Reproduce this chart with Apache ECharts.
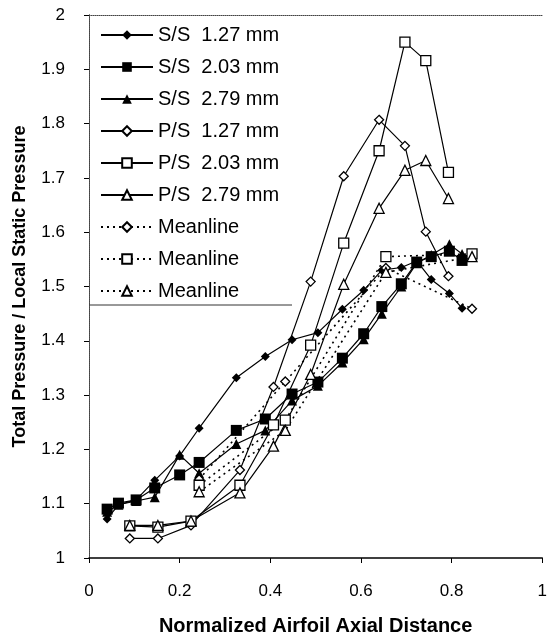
<!DOCTYPE html>
<html>
    <head>
        <title>Total Pressure / Local Static Pressure</title>
        <meta charset="UTF-8">
        <script type="text/javascript" src="https://cdn.jsdelivr.net/npm/echarts@6/dist/echarts.min.js"></script>
        <style>
            html, body { margin: 0; padding: 0; background: #fff; }
            #container { width: 550px; height: 641px; }
        </style>
    </head>
    <body>
        <div id="container"></div>
        <script type="text/javascript">
            // suction side stations
            var ssX = [0.04, 0.065, 0.104, 0.145, 0.2, 0.243, 0.325, 0.389, 0.448, 0.505, 0.559, 0.606, 0.646, 0.689, 0.723, 0.755, 0.795, 0.823];
            var ss127 = [1.072, 1.098, 1.107, 1.143, 1.188, 1.239, 1.332, 1.371, 1.402, 1.415, 1.458, 1.493, 1.53, 1.535, 1.547, 1.513, 1.487, 1.46];
            var ss203 = [1.09, 1.101, 1.107, 1.129, 1.153, 1.176, 1.235, 1.256, 1.302, 1.324, 1.368, 1.413, 1.463, 1.505, 1.545, 1.555, 1.565, 1.548];
            var ss279 = [1.085, 1.098, 1.105, 1.112, 1.19, 1.156, 1.21, 1.235, 1.29, 1.317, 1.36, 1.403, 1.45, 1.5, 1.543, 1.558, 1.578, 1.56];
            // pressure side stations
            var psX = [0.09, 0.152, 0.225, 0.333, 0.407, 0.489, 0.562, 0.64, 0.697, 0.743, 0.793];
            var ps127 = [1.036, 1.036, 1.06, 1.162, 1.315, 1.509, 1.703, 1.807, 1.759, 1.601, 1.519];
            var ps203 = [1.059, 1.057, 1.068, 1.134, 1.245, 1.392, 1.58, 1.75, 1.95, 1.916, 1.71];
            var ps279 = [1.06, 1.06, 1.068, 1.12, 1.206, 1.338, 1.504, 1.644, 1.714, 1.732, 1.662];
            // meanline stations
            var mlX = [0.243, 0.433, 0.655, 0.845];
            var ml127 = [1.145, 1.325, 1.534, 1.459];
            var ml203 = [1.134, 1.254, 1.555, 1.56];
            var ml279 = [1.122, 1.235, 1.526, 1.555];

            // trailing spaces keep the three Meanline entries apart in the legend
            var names = ['S/S  1.27 mm', 'S/S  2.03 mm', 'S/S  2.79 mm', 'P/S  1.27 mm', 'P/S  2.03 mm', 'P/S  2.79 mm', 'Meanline', 'Meanline ', 'Meanline  '];
            var xTicks = [0, 0.2, 0.4, 0.6, 0.8, 1];
            var yTicks = [1, 1.1, 1.2, 1.3, 1.4, 1.5, 1.6, 1.7, 1.8, 1.9, 2];

            function pairs(xs, ys) {
                var out = [];
                for (var i = 0; i < xs.length; i++) {
                    out.push([xs[i], ys[i]]);
                }
                return out;
            }

            function line(name, xs, ys, symbol, size, filled, dotted) {
                return {
                    name: name,
                    type: 'line',
                    data: pairs(xs, ys),
                    symbol: symbol,
                    symbolSize: size,
                    showAllSymbol: true,
                    lineStyle: { color: '#000', width: dotted ? 1.6 : 1.2, type: dotted ? [2, 4] : 'solid' },
                    itemStyle: { color: filled ? '#000' : '#fff', borderColor: '#000', borderWidth: filled ? 0 : 1.3 },
                    emphasis: { disabled: true },
                    animation: false
                };
            }

            var font = "'Liberation Sans', Arial, sans-serif";
            var myChart = echarts.init(document.getElementById('container'));
            var option = {
                backgroundColor: '#fff',
                grid: { left: 89, right: 4, top: 15, bottom: 77 },
                legend: {
                    orient: 'vertical',
                    left: 95,
                    top: 19,
                    data: names,
                    itemWidth: 52,
                    itemHeight: 12,
                    itemGap: 10,
                    textStyle: { fontFamily: font, fontSize: 20, color: '#000', lineHeight: 22 }
                },
                graphic: [{
                    type: 'line',
                    shape: { x1: 89, y1: 305, x2: 292, y2: 305 },
                    style: { stroke: '#333', lineWidth: 1 }
                }],
                xAxis: [{
                    type: 'value',
                    min: 0,
                    max: 1,
                    interval: 0.2,
                    name: 'Normalized Airfoil Axial Distance',
                    nameLocation: 'middle',
                    nameGap: 58,
                    nameTextStyle: { fontFamily: font, fontSize: 20, fontWeight: 'bold', color: '#000' },
                    axisLine: { lineStyle: { color: '#000', width: 1.5 } },
                    axisTick: { length: 5, lineStyle: { color: '#000' } },
                    axisLabel: { margin: 25, fontFamily: font, fontSize: 17, color: '#000',
                        customValues: xTicks },
                    splitLine: { show: false }
                }, {
                    type: 'value',
                    position: 'top',
                    min: 0,
                    max: 1,
                    axisLine: { show: true, lineStyle: { color: '#444', type: [1, 1] } },
                    axisTick: { show: false },
                    axisLabel: { show: false },
                    splitLine: { show: false }
                }],
                yAxis: [{
                    type: 'value',
                    min: 1,
                    max: 2,
                    interval: 0.1,
                    name: 'Total Pressure / Local Static Pressure',
                    nameLocation: 'middle',
                    nameGap: 60,
                    nameTextStyle: { fontFamily: font, fontSize: 18, fontWeight: 'bold', color: '#000' },
                    axisLine: { show: true, lineStyle: { color: '#222', type: [1, 1] } },
                    axisTick: { show: true, length: 5, lineStyle: { color: '#000' } },
                    axisLabel: { margin: 24, fontFamily: font, fontSize: 17, color: '#000',
                        customValues: yTicks },
                    splitLine: { show: false }
                }, {
                    type: 'value',
                    position: 'right',
                    min: 1,
                    max: 2,
                    axisLine: { show: true, lineStyle: { color: '#444', type: [1, 1] } },
                    axisTick: { show: false },
                    axisLabel: { show: false },
                    splitLine: { show: false }
                }],
                series: [
                    line(names[0], ssX, ss127, 'diamond', 9, true, false),
                    line(names[1], ssX, ss203, 'rect', 11, true, false),
                    line(names[2], ssX, ss279, 'triangle', 10, true, false),
                    line(names[3], psX, ps127, 'diamond', 9, false, false),
                    line(names[4], psX, ps203, 'rect', 10, false, false),
                    line(names[5], psX, ps279, 'triangle', 10, false, false),
                    line(names[6], mlX, ml127, 'diamond', 9, false, true),
                    line(names[7], mlX, ml203, 'rect', 10, false, true),
                    line(names[8], mlX, ml279, 'triangle', 10, false, true)
                ]
            };
            myChart.setOption(option);
        </script>
    </body>
</html>
